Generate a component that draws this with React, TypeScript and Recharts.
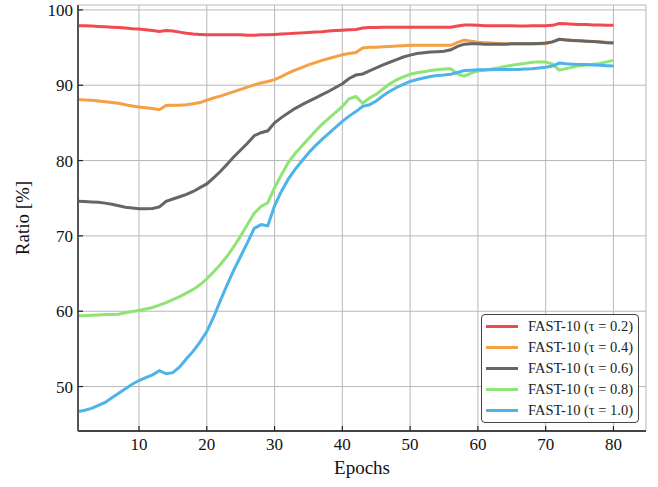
import React from "react";
import {
  LineChart,
  Line,
  CartesianGrid,
  XAxis,
  YAxis,
  Legend,
  Label,
} from "recharts";

const FONT = "'Liberation Serif', 'Times New Roman', serif";

// epochs 1..80
const epochs = [
  1, 2, 3, 4, 5, 6, 7, 8, 9, 10, 11, 12, 13, 14, 15, 16, 17, 18, 19, 20,
  21, 22, 23, 24, 25, 26, 27, 28, 29, 30, 31, 32, 33, 34, 35, 36, 37, 38, 39, 40,
  41, 42, 43, 44, 45, 46, 47, 48, 49, 50, 51, 52, 53, 54, 55, 56, 57, 58, 59, 60,
  61, 62, 63, 64, 65, 66, 67, 68, 69, 70, 71, 72, 73, 74, 75, 76, 77, 78, 79, 80,
];

const tau02 = [
  97.9, 97.9, 97.85, 97.8, 97.75, 97.7, 97.65, 97.6, 97.5, 97.45,
  97.35, 97.25, 97.15, 97.25, 97.2, 97.05, 96.9, 96.8, 96.75, 96.7,
  96.7, 96.7, 96.7, 96.7, 96.7, 96.65, 96.65, 96.7, 96.7, 96.75,
  96.8, 96.85, 96.9, 96.95, 97.0, 97.05, 97.1, 97.2, 97.25, 97.3,
  97.35, 97.4, 97.6, 97.65, 97.65, 97.7, 97.7, 97.7, 97.7, 97.7,
  97.7, 97.7, 97.7, 97.7, 97.7, 97.7, 97.85, 98.0, 98.0, 97.95,
  97.9, 97.9, 97.9, 97.9, 97.9, 97.85, 97.85, 97.9, 97.9, 97.9,
  97.95, 98.2, 98.15, 98.1, 98.05, 98.05, 98.0, 98.0, 97.95, 97.95,
];

const tau04 = [
  88.1, 88.05, 88.0, 87.9, 87.8, 87.7, 87.6, 87.4, 87.25, 87.1,
  87.0, 86.9, 86.75, 87.3, 87.35, 87.35, 87.4, 87.55, 87.7, 88.0,
  88.3, 88.55, 88.85, 89.15, 89.45, 89.75, 90.05, 90.3, 90.5, 90.75,
  91.15, 91.6, 92.0, 92.35, 92.7, 93.0, 93.3, 93.55, 93.8, 94.05,
  94.2, 94.35, 94.95, 95.05, 95.05, 95.1, 95.15, 95.2, 95.25, 95.3,
  95.3, 95.3, 95.3, 95.3, 95.3, 95.3, 95.7, 96.0, 95.85, 95.7,
  95.65, 95.6, 95.55, 95.5, 95.5, 95.5, 95.5, 95.5, 95.5, 95.5,
  95.75, 96.1, 96.05, 95.95, 95.9, 95.85, 95.8, 95.75, 95.7, 95.65,
];

const tau06 = [
  74.6, 74.55, 74.5, 74.45, 74.35, 74.2, 74.0, 73.8, 73.7, 73.6,
  73.6, 73.65, 73.85, 74.6, 74.9, 75.2, 75.5, 75.9, 76.4, 76.9,
  77.7, 78.55, 79.5, 80.5, 81.4, 82.3, 83.3, 83.7, 83.95, 85.0,
  85.7, 86.3, 86.9, 87.4, 87.85, 88.3, 88.75, 89.2, 89.7, 90.2,
  90.9, 91.35, 91.5, 91.9, 92.3, 92.7, 93.05, 93.4, 93.75, 94.0,
  94.2, 94.3, 94.4, 94.45, 94.5, 94.7, 95.15, 95.45, 95.5, 95.5,
  95.45, 95.45, 95.45, 95.45, 95.5, 95.5, 95.5, 95.5, 95.55, 95.6,
  95.75, 96.1, 96.0, 95.95, 95.9, 95.85, 95.8, 95.75, 95.65, 95.6,
];

const tau08 = [
  59.4, 59.4, 59.45, 59.5, 59.55, 59.55, 59.6, 59.8, 59.95, 60.1,
  60.3, 60.5, 60.8, 61.15, 61.55, 61.95, 62.4, 62.9, 63.5, 64.3,
  65.2, 66.2, 67.3, 68.6, 70.0, 71.5, 73.0, 73.9, 74.4, 76.4,
  78.1, 79.7, 80.9, 81.9, 82.9, 83.9, 84.8, 85.6, 86.4, 87.2,
  88.2, 88.5, 87.6, 88.3, 88.8, 89.5, 90.2, 90.7, 91.1, 91.45,
  91.65, 91.8, 91.95, 92.05, 92.15, 92.2, 91.5, 91.2, 91.6, 91.9,
  92.0, 92.15, 92.3, 92.5, 92.65, 92.8, 92.9, 93.05, 93.1, 93.1,
  92.8, 92.0, 92.2, 92.4, 92.6, 92.7, 92.8, 92.9, 93.1, 93.3,
];

const tau10 = [
  46.7, 46.85, 47.1, 47.5, 47.9, 48.5, 49.1, 49.7, 50.3, 50.8,
  51.2, 51.55, 52.1, 51.7, 51.85, 52.6, 53.7, 54.7, 55.9, 57.3,
  59.2, 61.4, 63.5, 65.5, 67.3, 69.1, 71.0, 71.5, 71.35, 74.0,
  75.9, 77.5, 78.8, 79.9, 81.0, 81.95, 82.8, 83.6, 84.4, 85.2,
  85.9, 86.5, 87.2, 87.4, 87.9, 88.6, 89.2, 89.7, 90.1, 90.5,
  90.75, 90.95, 91.15, 91.3, 91.35, 91.45, 91.7, 91.95, 92.0, 92.05,
  92.05, 92.05, 92.1, 92.1, 92.1, 92.1, 92.15, 92.2, 92.3, 92.4,
  92.55, 92.95, 92.85, 92.8, 92.75, 92.75, 92.7, 92.65, 92.6, 92.55,
];

const xTicks = [10, 20, 30, 40, 50, 60, 70, 80];
const yTicks = [50, 60, 70, 80, 90, 100];

const series = [
  { key: "t02", name: "FAST-10 (τ = 0.2)", color: "#F0494F", values: tau02 },
  { key: "t04", name: "FAST-10 (τ = 0.4)", color: "#F5A045", values: tau04 },
  { key: "t06", name: "FAST-10 (τ = 0.6)", color: "#666666", values: tau06 },
  { key: "t08", name: "FAST-10 (τ = 0.8)", color: "#8EE474", values: tau08 },
  { key: "t10", name: "FAST-10 (τ = 1.0)", color: "#4DB3EA", values: tau10 },
];

const data = epochs.map((e, i) => {
  const row: Record<string, number> = { epoch: e };
  series.forEach((s) => {
    row[s.key] = s.values[i];
  });
  return row;
});

// serif tick labels, recharts' default tick text kept falling back to sans
const XTick = (props: any) => {
  const { x, y, payload } = props;
  return (
    <text x={x} y={y} dy="0.71em" textAnchor="middle" fill="#111" fontSize={17} fontFamily={FONT}>
      {payload.value}
    </text>
  );
};

const YTick = (props: any) => {
  const { x, y, payload } = props;
  return (
    <text x={x} y={y} dy="0.35em" textAnchor="end" fill="#111" fontSize={17} fontFamily={FONT}>
      {payload.value}
    </text>
  );
};

const renderLegend = (props: any) => {
  const { payload } = props;
  return (
    <div
      style={{
        border: "1px solid #444",
        borderRadius: 4,
        background: "rgba(255,255,255,0.9)",
        padding: "1px 0",
        width: 158,
        boxSizing: "border-box",
      }}
    >
      {payload.map((p: any) => (
        <div key={p.value} style={{ display: "flex", alignItems: "center", height: 21 }}>
          <div style={{ width: 32, height: 3, background: p.color, marginLeft: 4, marginRight: 10 }} />
          <span style={{ fontFamily: FONT, fontSize: 14.5, color: "#222", whiteSpace: "nowrap" }}>
            {p.value}
          </span>
        </div>
      ))}
    </div>
  );
};

export default function App() {
  return (
    <div style={{ position: "absolute", left: 0, top: 0, background: "#fff", fontFamily: FONT }}>
      <LineChart
        width={658}
        height={487}
        data={data}
        margin={{ top: 5, right: 12, left: 18, bottom: 26 }}
      >
        <CartesianGrid stroke="#b8b8b8" strokeWidth={1} />
        <XAxis
          dataKey="epoch"
          type="number"
          domain={[1, 84.8]}
          allowDataOverflow
          ticks={xTicks}
          height={30}
          tickSize={-5}
          tickMargin={12}
          tick={<XTick />}
          axisLine={{ stroke: "#444", strokeWidth: 2 }}
          tickLine={{ stroke: "#222", strokeWidth: 1.2 }}
        >
          <Label
            value="Epochs"
            position="bottom"
            offset={0}
            style={{ fontFamily: FONT, fontSize: 19, fill: "#111" }}
          />
        </XAxis>
        <XAxis
          xAxisId="top"
          dataKey="epoch"
          type="number"
          orientation="top"
          domain={[1, 84.8]}
          allowDataOverflow
          ticks={xTicks}
          height={0}
          tickSize={-5}
          tick={false}
          axisLine={{ stroke: "#111", strokeWidth: 1.5 }}
          tickLine={{ stroke: "#222", strokeWidth: 1.2 }}
        />
        <YAxis
          type="number"
          domain={[44.1, 100.65]}
          allowDataOverflow
          ticks={yTicks}
          width={60}
          tickSize={-5}
          tickMargin={10}
          tick={<YTick />}
          axisLine={{ stroke: "#555", strokeWidth: 2 }}
          tickLine={{ stroke: "#222", strokeWidth: 1.2 }}
        >
          <Label
            value="Ratio [%]"
            angle={-90}
            position="insideLeft"
            offset={4}
            style={{ fontFamily: FONT, fontSize: 19, fill: "#111", textAnchor: "middle" }}
          />
        </YAxis>
        <YAxis
          yAxisId="right"
          type="number"
          orientation="right"
          domain={[44.1, 100.65]}
          allowDataOverflow
          ticks={yTicks}
          width={0}
          tickSize={-5}
          tick={false}
          axisLine={{ stroke: "#111", strokeWidth: 1.5 }}
          tickLine={{ stroke: "#222", strokeWidth: 1.2 }}
        />
        <Legend
          layout="vertical"
          align="center"
          verticalAlign="middle"
          content={renderLegend}
          wrapperStyle={{ left: 481, top: 314, width: 158 }}
        />
        {series.map((s) => (
          <Line
            key={s.key}
            type="linear"
            dataKey={s.key}
            name={s.name}
            stroke={s.color}
            strokeWidth={3}
            dot={false}
            activeDot={false}
            isAnimationActive={false}
          />
        ))}
      </LineChart>
    </div>
  );
}
